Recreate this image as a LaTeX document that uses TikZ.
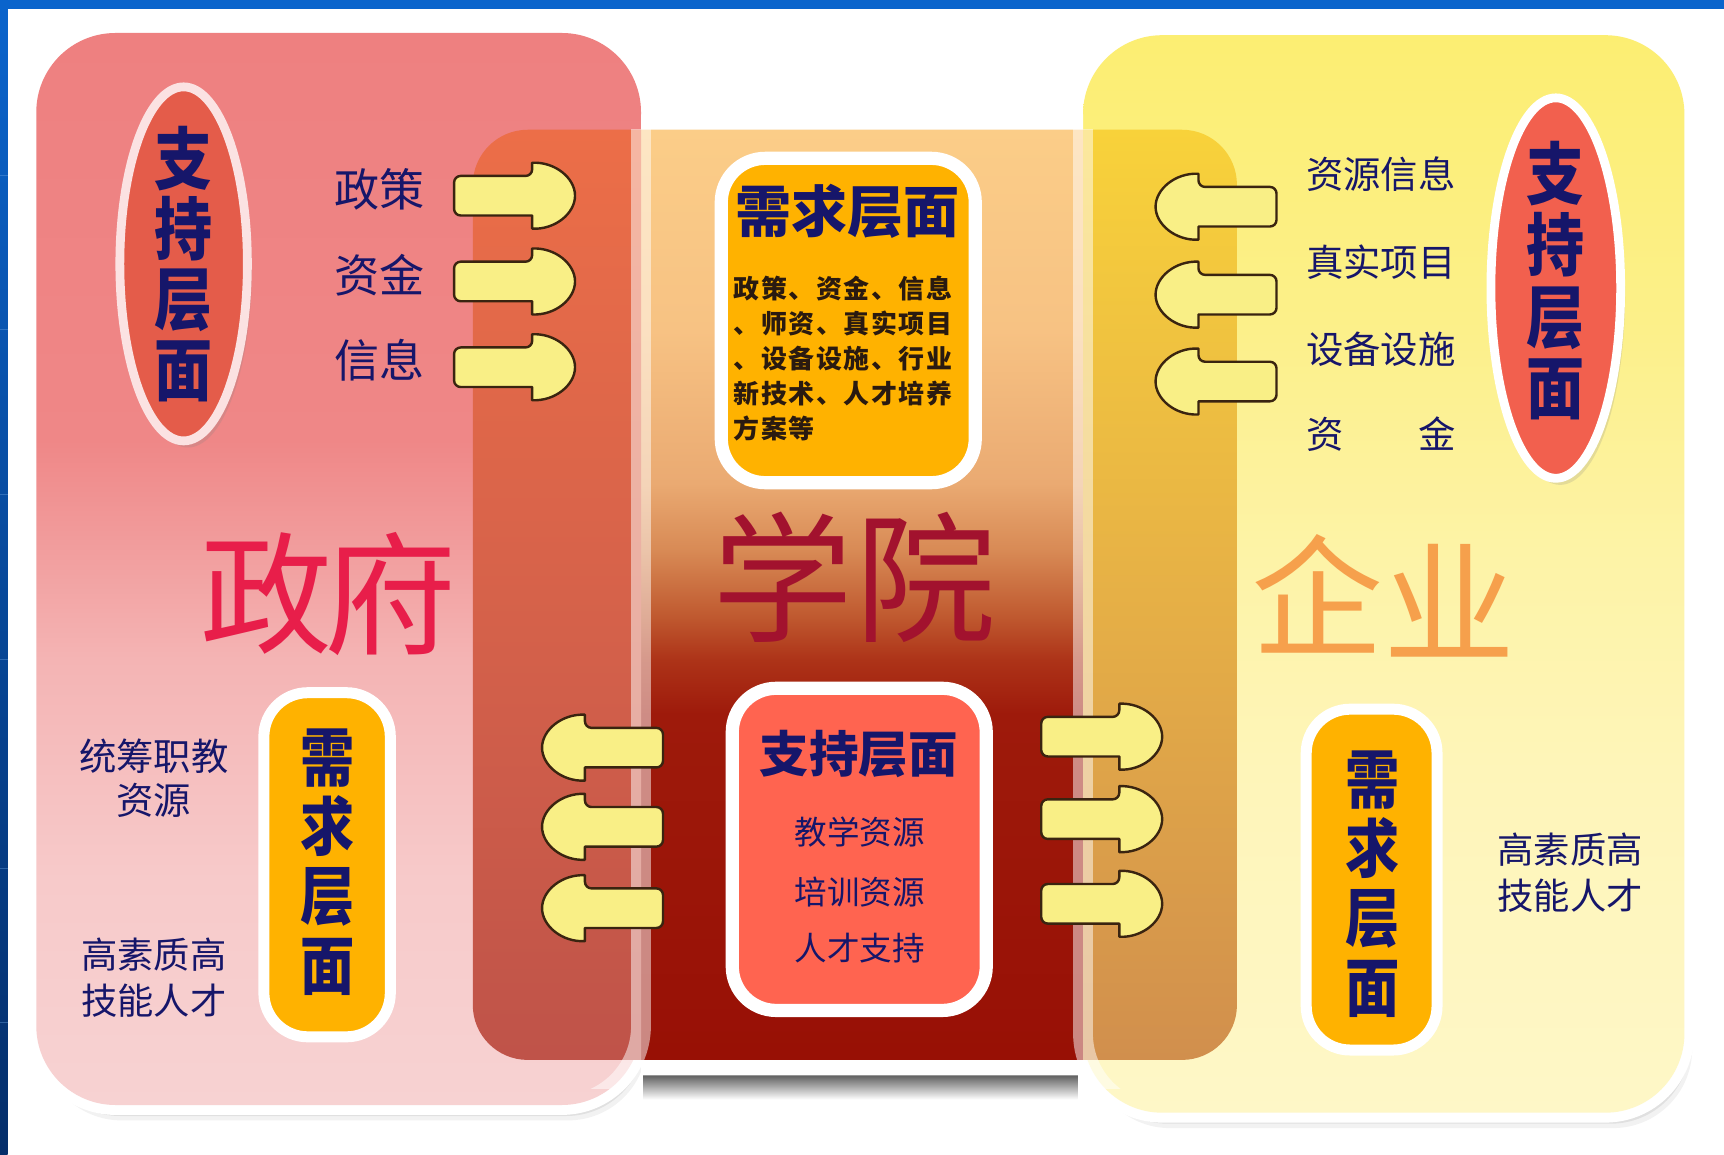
\documentclass[tikz,border=0pt]{standalone}
\usepackage{fontspec}
\newfontfamily\cjk{Noto Sans CJK SC}
\newfontfamily\cjkc[FakeStretch=0.85]{Noto Sans CJK SC}
\newfontfamily\cjkls[LetterSpace=6]{Noto Sans CJK SC}
\usetikzlibrary{shapes.geometric,shadows}
\definecolor{navy}{HTML}{16166A}
\definecolor{bodytxt}{HTML}{2A1A10}
\definecolor{bluetop}{HTML}{0A64CC}
\definecolor{bluebot}{HTML}{052E6A}
\definecolor{lp1}{HTML}{EE8080}
\definecolor{lp2}{HTML}{EF8787}
\definecolor{lp3}{HTML}{F4B4B4}
\definecolor{lp4}{HTML}{F7CACA}
\definecolor{lp5}{HTML}{F7D2D2}
\definecolor{rp1}{HTML}{FCEE72}
\definecolor{rp2}{HTML}{FCF08A}
\definecolor{rp3}{HTML}{FDF3A6}
\definecolor{rp4}{HTML}{FEF5B9}
\definecolor{rp5}{HTML}{FEF7C7}
\definecolor{cTop}{HTML}{FBCD88}
\definecolor{c2}{HTML}{F7C283}
\definecolor{c3}{HTML}{EAAA72}
\definecolor{c4}{HTML}{D88A55}
\definecolor{c5}{HTML}{C05A30}
\definecolor{c6}{HTML}{AD3318}
\definecolor{c7}{HTML}{9E1A0B}
\definecolor{cBot}{HTML}{981005}
\definecolor{loTop}{HTML}{EC6E48}
\definecolor{loMid}{HTML}{D6624A}
\definecolor{loBot}{HTML}{BF5349}
\definecolor{roTop}{HTML}{F8D23A}
\definecolor{roMid}{HTML}{E6B046}
\definecolor{roBot}{HTML}{D18F4D}
\definecolor{boxgold}{HTML}{FFB200}
\definecolor{boxcoral}{HTML}{FF6450}
\definecolor{ellL}{HTML}{E45C4A}
\definecolor{ellR}{HTML}{F2604E}
\definecolor{rimpink}{HTML}{FBE2E2}
\definecolor{arrowfill}{HTML}{F9EF86}
\definecolor{arrowline}{HTML}{3A2410}
\definecolor{zfred}{HTML}{E81E4A}
\definecolor{xyred}{HTML}{A2122E}
\definecolor{qyorange}{HTML}{F6A04C}
\pgfdeclareverticalshading{centermid}{100bp}{color(0bp)=(cBot); color(25bp)=(cBot); color(43.6bp)=(c7); color(46.5bp)=(c6); color(48.9bp)=(c5); color(52.4bp)=(c4); color(56bp)=(c3); color(64.2bp)=(c2); color(75bp)=(cTop); color(100bp)=(cTop)}
\pgfdeclareverticalshading{lpanel}{100bp}{color(0bp)=(lp5); color(25bp)=(lp5); color(35.5bp)=(lp4); color(45.8bp)=(lp3); color(56bp)=(lp2); color(75bp)=(lp1); color(100bp)=(lp1)}
\pgfdeclareverticalshading{rpanel}{100bp}{color(0bp)=(rp5); color(25bp)=(rp5); color(40.9bp)=(rp4); color(51.1bp)=(rp3); color(61.3bp)=(rp2); color(75bp)=(rp1); color(100bp)=(rp1)}
\begin{document}
\begin{tikzpicture}[x=0.5pt,y=-0.5pt,
  sidetxt/.style={text=navy, inner sep=0pt, font={\cjk\fontsize{17}{20}\selectfont}},
  bigchar/.style={inner sep=0pt, font={\cjk\fontsize{60}{62}\selectfont}},
  vtitle/.style={text=navy, inner sep=0pt, align=center},
  rimbox/.style={rectangle, rounded corners=20pt, draw=white, line width=5pt, inner sep=0pt},
  rimell/.style={ellipse, line width=4pt, inner sep=0pt, drop shadow={shadow xshift=2pt,shadow yshift=-3pt,opacity=.2}},
  arrowsty/.style={fill=arrowfill, draw=arrowline, line width=1.1pt, line join=round},
  rarrow/.pic={\path[arrowsty] (71,-18) -- (71,-30) .. controls (92,-31) and (110,-16) .. (110,0) .. controls (110,16) and (92,31) .. (71,30) -- (71,18) [rounded corners=3pt] -- (0,18) -- (0,-18) -- cycle;}
]
\useasboundingbox (0,0) rectangle (1568,1050);
% background
\fill[white] (0,0) rectangle (1568,1050);
\shade[top color=bluetop, bottom color=bluebot] (0,0) rectangle (7,1050);
\foreach \yy in {160,300,450,600,790,930} \draw[bluetop!60!white, opacity=.4, line width=0.4pt] (0,\yy) -- (7,\yy);
\fill[bluetop] (0,0) rectangle (1568,8);
% shadows of side panels
\foreach \d/\o in {14/0.05, 10/0.07, 6/0.09, 3/0.10}{
  \fill[black, opacity=\o, rounded corners=36pt] (33+\d*0.4,30+\d) rectangle (583+\d*0.4,1005+\d);
  \fill[black, opacity=\o, rounded corners=36pt] (985+\d*0.5,32+\d) rectangle (1532+\d*0.5,1012+\d);
}
% left panel
\draw[white, line width=9pt, rounded corners=36pt] (33,30) rectangle (583,1005);
\shade[shading=lpanel, rounded corners=36pt] (33,30) rectangle (583,1005);
% right panel
\draw[white, line width=9pt, rounded corners=36pt] (985,32) rectangle (1532,1012);
\shade[shading=rpanel, rounded corners=36pt] (985,32) rectangle (1532,1012);
% center panel
\shade[top color=black!65, bottom color=white] (585,977) rectangle (980,1000);
\begin{scope}
  \clip (583,90) rectangle (985,1000);
  \draw[white, line width=14pt, rounded corners=25pt] (430,118) rectangle (1125,964);
\end{scope}
\begin{scope}
  \clip[rounded corners=25pt] (430,118) rectangle (1125,964);
  \shade[shading=centermid] (583,118) rectangle (985,964);
  \shade[top color=loTop, bottom color=loBot, middle color=loMid] (425,118) rectangle (583,964);
  \shade[top color=roTop, bottom color=roBot, middle color=roMid] (985,118) rectangle (1130,964);
\end{scope}
% side panel rims seen over the center
\begin{scope}
  \clip (420,118) rectangle (1135,990);
  \draw[white, opacity=.5, line width=9pt, rounded corners=36pt] (33,30) rectangle (583,1005);
  \draw[white, opacity=.5, line width=9pt, rounded corners=36pt] (985,32) rectangle (1532,1012);
\end{scope}
% ===== left: government =====
\node[rimell, draw=rimpink, fill=ellL, minimum width=58pt, minimum height=161pt] (lell) at (167,240) {};
\node[vtitle, font={\cjkc\bfseries\fontsize{31}{32}\selectfont}] (lelltxt) at (lell.center) {支\\持\\层\\面};
\node[sidetxt, font={\cjk\fontsize{20.5}{24}\selectfont}] (lt1) at (345,172) {政策};
\node[sidetxt, font={\cjk\fontsize{20.5}{24}\selectfont}] (lt2) at (345,250) {资金};
\node[sidetxt, font={\cjk\fontsize{20.5}{24}\selectfont}] (lt3) at (345,328) {信息};
\pic at (413,178) {rarrow};
\pic at (413,256) {rarrow};
\pic at (413,334) {rarrow};
\node[bigchar, text=zfred] (zf1) at (242,540) {政};
\node[bigchar, text=zfred] (zf2) at (355,540) {府};
\node[rimbox, fill=boxgold, minimum width=57.5pt, minimum height=156.5pt] (lneed) at (297.5,786.5) {};
\node[vtitle, font={\cjkc\bfseries\fontsize{29}{31.5}\selectfont}] (lneedtxt) at (298,784) {需\\求\\层\\面};
\node[sidetxt, align=center, font={\cjk\fontsize{17}{20}\selectfont}] (lt4) at (140,708) {统筹职教\\资源};
\node[sidetxt, align=center, font={\cjk\fontsize{16.5}{21}\selectfont}] (lt5) at (140,889) {高素质高\\技能人才};
% ===== center: college =====
\node[rimbox, line width=6pt, fill=boxgold, minimum width=115.5pt, minimum height=147.5pt] (cneed) at (771.5,291.5) {};
\node[inner sep=0pt, text=navy, font={\cjk\bfseries\fontsize{25.5}{28}\selectfont}] (cneedt) at (771,192) {需求层面};
\node[inner sep=0pt, text=bodytxt, anchor=west, align=left, font={\cjkls\bfseries\fontsize{11.8}{15.9}\selectfont}] (cneedb) at (667,326) {政策、资金、信息\\、师资、真实项目\\、设备设施、行业\\新技术、人才培养\\方案等};
\node[bigchar, text=xyred, font={\cjk\fontsize{64}{66}\selectfont}] (xy1) at (712,525) {学};
\node[bigchar, text=xyred, font={\cjk\fontsize{64}{66}\selectfont}] (xy2) at (842,525) {院};
\node[rimbox, line width=6pt, fill=boxcoral, minimum width=115.5pt, minimum height=146.5pt] (csup) at (781.5,772.5) {};
\node[inner sep=0pt, text=navy, font={\cjk\bfseries\fontsize{22.5}{25}\selectfont}] (csupt) at (781,686) {支持层面};
\node[sidetxt, font={\cjk\fontsize{14.8}{18}\selectfont}] (cs1) at (782,757) {教学资源};
\node[sidetxt, font={\cjk\fontsize{14.8}{18}\selectfont}] (cs2) at (782,811) {培训资源};
\node[sidetxt, font={\cjk\fontsize{14.8}{18}\selectfont}] (cs3) at (782,862) {人才支持};
\pic[xscale=-1] at (603,680) {rarrow};
\pic[xscale=-1] at (603,752) {rarrow};
\pic[xscale=-1] at (603,826) {rarrow};
\pic at (947,670) {rarrow};
\pic at (947,745) {rarrow};
\pic at (947,822) {rarrow};
% ===== right: enterprise =====
\pic[xscale=-1] at (1161,188) {rarrow};
\pic[xscale=-1] at (1161,268) {rarrow};
\pic[xscale=-1] at (1161,347) {rarrow};
\node[sidetxt] (rt1) at (1256,158) {资源信息};
\node[sidetxt] (rt2) at (1256,238) {真实项目};
\node[sidetxt] (rt3) at (1256,318) {设备设施};
\node[sidetxt] (rt4) at (1256,395) {资　　金};
\node[rimell, draw=white, fill=ellR, minimum width=59pt, minimum height=173pt] (rell) at (1415,262) {};
\node[vtitle, font={\cjkc\bfseries\fontsize{31}{32.5}\selectfont}] (relltxt) at (1415,255) {支\\持\\层\\面};
\node[bigchar, text=qyorange] (qy1) at (1198,540) {企};
\node[bigchar, text=qyorange] (qy2) at (1318,546) {业};
\node[rimbox, fill=boxgold, minimum width=59.5pt, minimum height=155pt] (rneed) at (1247.5,800) {};
\node[vtitle, font={\cjkc\bfseries\fontsize{29}{31.5}\selectfont}] (rneedtxt) at (1248,804) {需\\求\\层\\面};
\node[sidetxt, align=center, font={\cjk\fontsize{16.5}{21}\selectfont}] (rt5) at (1428,794) {高素质高\\技能人才};
\end{tikzpicture}
\end{document}
